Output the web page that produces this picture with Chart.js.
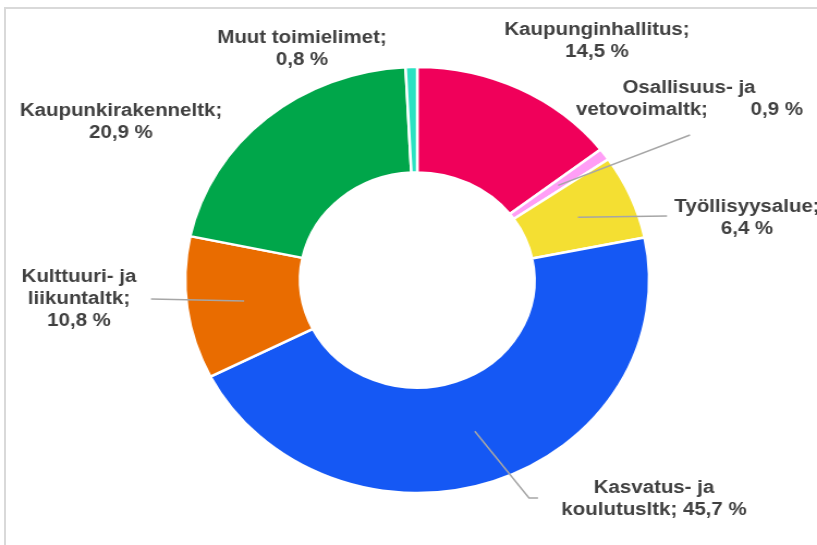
<!DOCTYPE html>
<html>
<head>
<meta charset="utf-8">
<title>Toimielinten osuudet</title>
<script src="https://cdn.jsdelivr.net/npm/chart.js@4.4.1/dist/chart.umd.min.js"></script>
<style>
  html, body { margin: 0; padding: 0; background: #fff; }
  body { width: 817px; height: 545px; position: relative; overflow: hidden; }
  #frame {
    position: absolute; left: 4px; top: 7px; width: 840px; height: 560px;
    border-top: 2px solid #d9d9d9; border-left: 2px solid #d9d9d9;
  }
  /* the original picture is a bit wider than tall, so the canvas is stretched sideways */
  #chart {
    position: absolute; left: 0; top: 0; width: 750px; height: 545px;
    transform: scaleX(1.08933); transform-origin: 0 0;
  }
</style>
</head>
<body>
<div id="frame"></div>
<canvas id="chart" width="750" height="545"></canvas>
<script>
// Chart data
const categories = [
  'Kaupunginhallitus',
  'Osallisuus- ja vetovoimaltk',
  'Työllisyysalue',
  'Kasvatus- ja koulutusltk',
  'Kulttuuri- ja liikuntaltk',
  'Kaupunkirakenneltk',
  'Muut toimielimet'
];
const shares = [14.5, 0.9, 6.4, 45.7, 10.8, 20.9, 0.8];

const sliceColors = ['#f0005a', '#ff9ef6', '#f4df32', '#1558f4', '#e96c00', '#00a64a', '#2ae2c2'];

const STRETCH = 817 / 750;
const LINE_H = 22;
const px = x => x / STRETCH;   // page x -> canvas x

// Label placement in page pixels (first line centre, words per line, leader bends)
const labelLayout = [
  { x: 597, y: 30, lines: [1, 2] },
  { x: 689, y: 88, lines: [2, 3], spread: { line: 1, left: 576, right: 803 }, leader: [[690, 135]] },
  { x: 747, y: 207, lines: [1, 2], leader: [[667, 216]] },
  { x: 654, y: 488, lines: [2, 3], leader: [[529, 498], [538, 498]] },
  { x: 79, y: 277, lines: [2, 1, 2], leader: [[151, 299]] },
  { x: 121, y: 111, lines: [1, 2] },
  { x: 302, y: 38, lines: [2, 2] }
];

function formatShare(v) {
  return v.toFixed(1).replace('.', ',') + ' %';
}

const sliceLabels = {
  id: 'sliceLabels',
  afterDatasetsDraw(chart) {
    const ctx = chart.ctx;
    const arcs = chart.getDatasetMeta(0).data;
    ctx.save();

    // leader lines from the slice centre to the label
    ctx.strokeStyle = '#a6a6a6';
    ctx.lineWidth = 1.5;
    labelLayout.forEach((lay, i) => {
      if (!lay.leader) return;
      const p = arcs[i].tooltipPosition();
      ctx.beginPath();
      ctx.moveTo(p.x, p.y);
      lay.leader.forEach(([x, y]) => ctx.lineTo(px(x), y));
      ctx.stroke();
    });

    ctx.font = 'bold 18.8px "Liberation Sans", Arial, sans-serif';
    ctx.fillStyle = '#404040';
    ctx.textBaseline = 'middle';
    labelLayout.forEach((lay, i) => {
      const words = (categories[i] + '; ' + formatShare(shares[i])).split(' ');
      let k = 0;
      lay.lines.forEach((n, li) => {
        const part = words.slice(k, k + n);
        k += n;
        const y = lay.y + li * LINE_H;
        if (lay.spread && lay.spread.line === li) {
          ctx.textAlign = 'left';
          ctx.fillText(part[0], px(lay.spread.left), y);
          ctx.textAlign = 'right';
          ctx.fillText(part.slice(1).join(' '), px(lay.spread.right), y);
        } else {
          ctx.textAlign = 'center';
          ctx.fillText(part.join(' '), px(lay.x), y);
        }
      });
    });
    ctx.restore();
  }
};

new Chart(document.getElementById('chart'), {
  type: 'doughnut',
  data: {
    labels: categories,
    datasets: [{
      data: shares,
      backgroundColor: sliceColors,
      borderColor: '#ffffff',
      borderWidth: 2.5
    }]
  },
  options: {
    responsive: false,
    animation: false,
    devicePixelRatio: 1,
    radius: 213,
    cutout: '50.5%',
    layout: { padding: { left: 16, top: 15, right: 0, bottom: 0 } },
    plugins: {
      legend: { display: false },
      tooltip: { enabled: false }
    }
  },
  plugins: [sliceLabels]
});
</script>
</body>
</html>
